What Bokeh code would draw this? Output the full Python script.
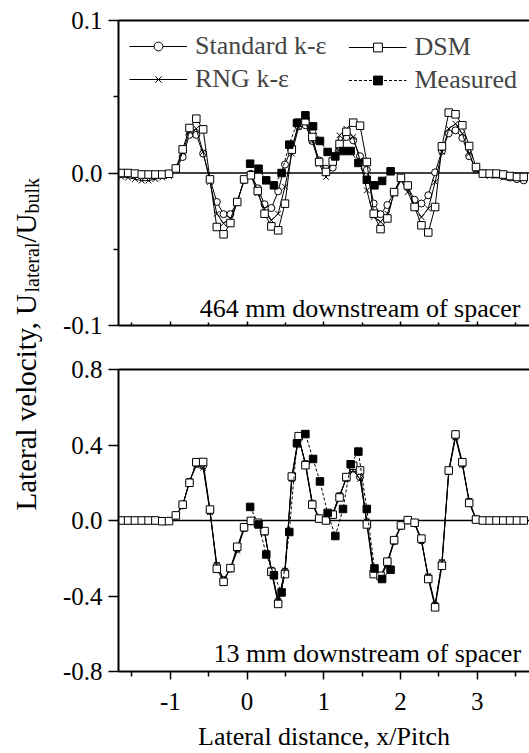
import math
from bokeh.plotting import figure
from bokeh.models import (Range1d, FixedTicker, LinearAxis, Span, Label, Legend,
                          LegendItem, PrintfTickFormatter)
from bokeh.layouts import row, column
from bokeh.embed import file_html
from bokeh.resources import INLINE

FONT = "Liberation Serif"

# ---------------- data ----------------
x_sim = [-1.639, -1.550, -1.461, -1.372, -1.283, -1.194, -1.105, -1.017, -0.928, -0.839,
         -0.750, -0.661, -0.572, -0.483, -0.394, -0.306, -0.217, -0.128, -0.039, 0.050,
         0.139, 0.228, 0.317, 0.405, 0.494, 0.583, 0.672, 0.761, 0.850, 0.939,
         1.028, 1.116, 1.205, 1.294, 1.383, 1.472, 1.561, 1.650, 1.739, 1.828,
         1.916, 2.005, 2.094, 2.183, 2.272, 2.361, 2.450, 2.539, 2.628, 2.716,
         2.805, 2.894, 2.983, 3.072, 3.161, 3.250, 3.339, 3.427, 3.516, 3.605]

# 464 mm downstream of spacer
std_top = [0.0, 0.0, -0.0005, -0.001, -0.001, -0.001, -0.001, -0.0005, 0.002, 0.0105,
           0.025, 0.025, 0.0127, -0.004, -0.019, -0.027, -0.027, -0.019, -0.0048, -0.0005,
           -0.0100, -0.0205, -0.0230, -0.0120, 0.0055, 0.017, 0.0306, 0.0313, 0.021, 0.0083,
           0.0028, 0.0035, 0.017, 0.0236, 0.0214, 0.011, 0.002, -0.020, -0.027, -0.021,
           -0.0125, -0.0033, -0.0092, -0.0175, -0.020, -0.0146, 0.0004, 0.0145, 0.026, 0.028,
           0.023, 0.011, 0.0028, 0.0, -0.0005, -0.001, -0.002, -0.003, -0.004, -0.0048]
rng_top = [-0.0026, -0.003, -0.004, -0.005, -0.005, -0.004, -0.003, -0.002, 0.002, 0.0138,
           0.027, 0.029, 0.0138, -0.006, -0.0267, -0.033, -0.030, -0.019, -0.0048, -0.0015,
           -0.0135, -0.0234, -0.031, -0.0267, -0.009, 0.0127, 0.030, 0.0334, 0.021, 0.006,
           -0.0026, 0.0083, 0.0247, 0.029, 0.0236, 0.0083, -0.0114, -0.0289, -0.032, -0.0267,
           -0.0135, -0.0048, -0.0125, -0.0223, -0.0289, -0.0234, -0.006, 0.0138, 0.029, 0.0323,
           0.0258, 0.0127, 0.0017, -0.001, -0.002, -0.002, -0.003, -0.003, -0.003, -0.003]
dsm_top = [0.0, 0.0, -0.0004, -0.001, -0.001, -0.001, -0.001, -0.0005, 0.003, 0.0155,
           0.0295, 0.0356, 0.0286, -0.0042, -0.0354, -0.0402, -0.0328, -0.019, -0.0042, -0.0015,
           -0.0118, -0.0267, -0.035, -0.0376, -0.0201, 0.0153, 0.033, 0.034, 0.0236, 0.0072,
           0.0007, 0.0075, 0.019, 0.027, 0.033, 0.031, 0.0072, -0.0267, -0.0368, -0.0298,
           -0.0125, -0.0032, -0.0082, -0.0223, -0.0343, -0.039, -0.0223, 0.0175, 0.0396, 0.0385,
           0.0313, 0.0177, 0.0039, -0.0004, -0.0004, -0.0004, -0.001, -0.002, -0.0026, -0.0026]

x_meas = [0.04, 0.15, 0.25, 0.35, 0.45, 0.55, 0.65, 0.76, 0.86, 0.95,
          1.05, 1.15, 1.25, 1.35, 1.45, 1.56, 1.66, 1.76, 1.87]
meas_top = [0.0061, 0.0028, -0.0048, -0.0081, 0.0, 0.0186, 0.0328, 0.0378, 0.0306, 0.021,
            0.0138, 0.0109, 0.0144, 0.0144, 0.0066, -0.0044, -0.0081, -0.0052, 0.0011]

# 13 mm downstream of spacer
std_bot = [0.0, 0.0, 0.0, 0.0, 0.0, 0.0, -0.003, -0.002, 0.025, 0.080,
           0.205, 0.300, 0.290, 0.050, -0.240, -0.315, -0.255, -0.150, -0.040, -0.005,
           -0.015, -0.060, -0.265, -0.430, -0.270, 0.225, 0.440, 0.300, 0.090, 0.012,
           0.002, 0.035, 0.130, 0.225, 0.275, 0.230, -0.010, -0.270, -0.300, -0.225,
           -0.110, -0.030, 0.000, -0.015, -0.105, -0.300, -0.450, -0.225, 0.260, 0.445,
           0.300, 0.100, 0.008, 0.0, 0.0, 0.0, 0.0, 0.0, 0.0, 0.0]
rng_bot = [0.0, 0.0, 0.0, 0.0, 0.0, 0.0, -0.003, -0.002, 0.024, 0.078,
           0.210, 0.290, 0.280, 0.045, -0.235, -0.310, -0.260, -0.160, -0.045, -0.006,
           -0.018, -0.065, -0.260, -0.425, -0.265, 0.220, 0.435, 0.305, 0.095, 0.014,
           0.003, 0.038, 0.135, 0.220, 0.265, 0.220, -0.005, -0.265, -0.305, -0.230,
           -0.112, -0.032, -0.002, -0.018, -0.110, -0.295, -0.445, -0.220, 0.255, 0.440,
           0.295, 0.105, 0.010, 0.0, 0.0, 0.0, 0.0, 0.0, 0.0, 0.0]
dsm_bot = [0.0, 0.0, 0.0, 0.0, 0.0, 0.0, -0.004, -0.003, 0.027, 0.084,
           0.200, 0.309, 0.310, 0.058, -0.256, -0.325, -0.252, -0.139, -0.036, -0.002,
           -0.012, -0.056, -0.272, -0.442, -0.284, 0.233, 0.447, 0.293, 0.084, 0.010,
           0.000, 0.031, 0.122, 0.230, 0.290, 0.265, -0.021, -0.284, -0.293, -0.218,
           -0.104, -0.026, 0.002, -0.012, -0.096, -0.310, -0.460, -0.240, 0.265, 0.456,
           0.309, 0.093, 0.005, 0.0, 0.0, 0.0, 0.0, 0.0, 0.0, 0.0]
meas_bot = [0.072, -0.021, -0.180, -0.290, -0.381, -0.061, 0.409, 0.458, 0.326, 0.207,
            0.040, -0.082, 0.061, 0.298, 0.365, 0.061, -0.254, -0.310, -0.261]

x_ticks = [-1, 0, 1, 2, 3]
x_tick_labels = ["-1", "0", "1", "2", "3"]
x_minor_ticks = [-1.5, -0.5, 0.5, 1.5, 2.5, 3.5]
top_y_ticks = [-0.1, 0.0, 0.1]
top_y_minor = [-0.05, 0.05]
bot_y_ticks = [-0.8, -0.4, 0.0, 0.4, 0.8]

series_names = ["Standard k-\u03b5", "RNG k-\u03b5", "DSM", "Measured"]
panel_titles = ["464 mm downstream of spacer", "13 mm downstream of spacer"]
x_label = "Lateral distance, x/Pitch"
y_label_parts = ["Lateral velocity, U", "lateral", "/U", "bulk"]

# ---------------- figures ----------------
XR = (-1.675, 3.68)


def make_panel(height, btop, bbot, yr, yticks, yminor):
    p = figure(width=481, height=height, x_range=Range1d(*XR), y_range=Range1d(*yr),
               toolbar_location=None, output_backend="svg",
               min_border_left=70, min_border_right=0,
               min_border_top=btop, min_border_bottom=bbot)
    p.outline_line_color = None
    p.grid.visible = False
    p.background_fill_color = "white"
    p.border_fill_color = "white"
    ya = p.left[0]
    ya.ticker = FixedTicker(ticks=yticks, minor_ticks=yminor)
    ya.formatter = PrintfTickFormatter(format="%.1f")
    ya.axis_line_width = 2
    ya.major_tick_line_width = 1.5
    ya.minor_tick_line_width = 1.5
    ya.major_tick_out = 10
    ya.major_tick_in = 0
    ya.minor_tick_out = 5
    ya.minor_tick_in = 0
    ya.major_label_standoff = 6
    ya.major_label_text_font = FONT
    ya.major_label_text_font_size = "25px"
    ya.major_label_text_color = "black"
    xa = p.below[0]
    xa.ticker = FixedTicker(ticks=x_ticks, minor_ticks=x_minor_ticks)
    xa.axis_line_width = 2
    xa.major_tick_line_width = 1.5
    xa.minor_tick_line_width = 1.5
    top_ax = LinearAxis(ticker=FixedTicker(ticks=[]), axis_line_width=2,
                        major_tick_out=0, major_tick_in=0, minor_tick_out=0, minor_tick_in=0)
    p.add_layout(top_ax, "above")
    p.add_layout(Span(location=0, dimension="width", line_color="black",
                      line_width=1.5, level="underlay"))
    return p, xa


def add_series(p, std, rng, dsm, meas):
    l1 = p.line(x_sim, std, line_color="black", line_width=1)
    s1 = p.scatter(x_sim, std, marker="circle", size=7, fill_color="white", line_color="black")
    l2 = p.line(x_sim, rng, line_color="black", line_width=1)
    s2 = p.scatter(x_sim, rng, marker="x", size=8, line_color="black")
    l3 = p.line(x_sim, dsm, line_color="black", line_width=1)
    s3 = p.scatter(x_sim, dsm, marker="square", size=7.5, fill_color="white", line_color="black")
    l4 = p.line(x_meas, meas, line_color="black", line_width=1, line_dash="3 2")
    s4 = p.scatter(x_meas, meas, marker="square", size=7.5, fill_color="black", line_color="black")
    return [(l1, s1), (l2, s2), (l3, s3), (l4, s4)]


# ---- top panel ----
p_top, xa = make_panel(347, 20, 22, (-0.1, 0.1), top_y_ticks, top_y_minor)
xa.major_label_overrides = {t: "" for t in x_ticks}
xa.major_label_text_font_size = "1px"
xa.major_label_standoff = 0
xa.major_tick_in = 4
xa.major_tick_out = 0
xa.minor_tick_in = 3
xa.minor_tick_out = 0
rs_top = add_series(p_top, std_top, rng_top, dsm_top, meas_top)

leg_kw = dict(label_text_font=FONT, label_text_font_size="26px", glyph_width=58, glyph_height=22,
              label_standoff=8, spacing=3, padding=0, border_line_color=None,
              background_fill_alpha=0, label_height=30)
leg1 = Legend(items=[LegendItem(label=series_names[0], renderers=list(rs_top[0])),
                     LegendItem(label=series_names[1], renderers=list(rs_top[1]))],
              location="top_left", margin=11, **leg_kw)
leg2 = Legend(items=[LegendItem(label=series_names[2], renderers=list(rs_top[2])),
                     LegendItem(label=series_names[3], renderers=list(rs_top[3]))],
              location="top_right", margin=12, **leg_kw)
p_top.add_layout(leg1)
p_top.add_layout(leg2)
p_top.add_layout(Label(x=3.562, y=-0.0889, text=panel_titles[0], text_align="right",
                       text_baseline="alphabetic", text_font=FONT,
                       text_font_size="26px", text_color="black"))

# ---- bottom panel ----
p_bot, xb = make_panel(406, 22, 80, (-0.8, 0.8), bot_y_ticks, [])
xb.major_label_overrides = dict(zip(x_ticks, x_tick_labels))
xb.major_tick_out = 8
xb.major_tick_in = 0
xb.minor_tick_out = 5
xb.minor_tick_in = 0
xb.major_label_standoff = 13
xb.major_label_text_font = FONT
xb.major_label_text_font_size = "25px"
xb.major_label_text_color = "black"
xb.axis_label = x_label
xb.axis_label_text_font = FONT
xb.axis_label_text_font_size = "26px"
xb.axis_label_text_font_style = "normal"
xb.axis_label_text_color = "black"
xb.axis_label_standoff = 9
add_series(p_bot, std_bot, rng_bot, dsm_bot, meas_bot)
p_bot.add_layout(Label(x=3.57, y=-0.705, text=panel_titles[1], text_align="right",
                       text_baseline="alphabetic", text_font=FONT,
                       text_font_size="26px", text_color="black"))

# ---- y-axis label (with subscripts) in a narrow strip on the left ----
H = 753
p_lab = figure(width=48, height=H, x_range=Range1d(0, 48), y_range=Range1d(0, H),
               toolbar_location=None, output_backend="svg", x_axis_type=None, y_axis_type=None,
               min_border_left=0, min_border_right=0, min_border_top=0, min_border_bottom=0)
p_lab.outline_line_color = None
p_lab.grid.visible = False
p_lab.background_fill_color = "white"
p_lab.border_fill_color = "white"
# start (pixels from top), x anchor, font size of each piece
piece_start = [510, 292, 242, 213]
piece_x = [25, 31, 25, 31]
piece_size = ["29px", "20px", "29px", "20px"]
for txt, st, xx, fs in zip(y_label_parts, piece_start, piece_x, piece_size):
    p_lab.add_layout(Label(x=xx, y=H - st, text=txt, angle=math.pi / 2,
                           text_font=FONT, text_font_size=fs, text_align="left",
                           text_baseline="alphabetic", text_color="black"))

layout = row(p_lab, column(p_top, p_bot))
open("out.html", "w").write(file_html(layout, INLINE))
